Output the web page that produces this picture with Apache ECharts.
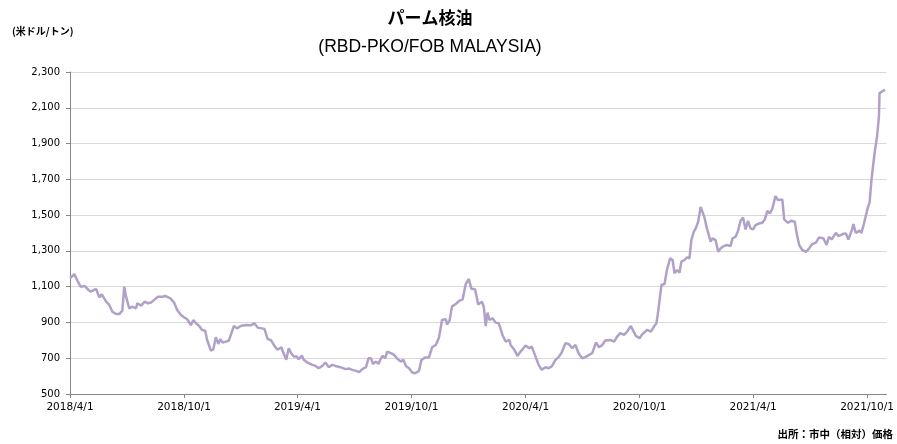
<!DOCTYPE html>
<html>
<head>
<meta charset="utf-8">
<script src="https://cdn.jsdelivr.net/npm/echarts@6/dist/echarts.min.js"></script>
<style>
  html, body { margin: 0; padding: 0; background: #fff; }
  #chart { width: 897px; height: 444px; }
</style>
</head>
<body>
<div id="chart"></div>
<script>
var dates = [
  '2018-04-01','2018-04-08','2018-04-13','2018-04-18','2018-04-25','2018-04-29','2018-05-04','2018-05-13','2018-05-18','2018-05-22',
  '2018-05-29','2018-06-03','2018-06-08','2018-06-14','2018-06-19','2018-06-24','2018-06-27','2018-06-30','2018-07-05','2018-07-10',
  '2018-07-16','2018-07-18','2018-07-24','2018-07-30','2018-08-04','2018-08-09','2018-08-15','2018-08-20','2018-08-27','2018-09-01',
  '2018-09-09','2018-09-15','2018-09-20','2018-09-26','2018-10-01','2018-10-06','2018-10-12','2018-10-16','2018-10-20','2018-10-25',
  '2018-10-30','2018-11-04','2018-11-07','2018-11-13','2018-11-17','2018-11-21','2018-11-25','2018-11-28','2018-12-02','2018-12-07',
  '2018-12-12','2018-12-15','2018-12-20','2018-12-25','2018-12-31','2019-01-08','2019-01-16','2019-01-22','2019-01-27','2019-02-07',
  '2019-02-12','2019-02-18','2019-02-23','2019-02-28','2019-03-06','2019-03-08','2019-03-14','2019-03-15','2019-03-18','2019-03-22',
  '2019-03-26','2019-03-31','2019-04-03','2019-04-08','2019-04-11','2019-04-17','2019-04-19','2019-04-25','2019-04-30','2019-05-05',
  '2019-05-11','2019-05-16','2019-05-21','2019-05-27','2019-06-01','2019-06-09','2019-06-17','2019-06-23','2019-06-28','2019-07-04',
  '2019-07-09','2019-07-14','2019-07-20','2019-07-24','2019-07-28','2019-07-31','2019-08-05','2019-08-09','2019-08-13','2019-08-16',
  '2019-08-20','2019-08-23','2019-08-29','2019-09-03','2019-09-09','2019-09-14','2019-09-18','2019-09-22','2019-09-27','2019-10-02',
  '2019-10-07','2019-10-13','2019-10-17','2019-10-23','2019-10-29','2019-11-03','2019-11-09','2019-11-14','2019-11-19','2019-11-25',
  '2019-11-27','2019-12-01','2019-12-05','2019-12-11','2019-12-17','2019-12-22','2019-12-27','2020-01-01','2020-01-05','2020-01-11',
  '2020-01-16','2020-01-22','2020-01-25','2020-01-28','2020-01-31','2020-02-03','2020-02-08','2020-02-13','2020-02-18','2020-02-24',
  '2020-02-29','2020-03-06','2020-03-08','2020-03-14','2020-03-19','2020-03-24','2020-04-01','2020-04-07','2020-04-11','2020-04-17',
  '2020-04-22','2020-04-27','2020-05-03','2020-05-08','2020-05-13','2020-05-19','2020-05-24','2020-05-29','2020-06-04','2020-06-09',
  '2020-06-15','2020-06-20','2020-06-25','2020-07-01','2020-07-06','2020-07-12','2020-07-17','2020-07-23','2020-07-28','2020-08-02',
  '2020-08-07','2020-08-15','2020-08-21','2020-08-26','2020-08-31','2020-09-06','2020-09-11','2020-09-17','2020-09-20','2020-09-25',
  '2020-10-01','2020-10-05','2020-10-13','2020-10-19','2020-10-24','2020-10-28','2020-10-31','2020-11-03','2020-11-05','2020-11-10',
  '2020-11-14','2020-11-19','2020-11-23','2020-11-26','2020-11-30','2020-12-04','2020-12-07','2020-12-12','2020-12-16','2020-12-20',
  '2020-12-23','2020-12-27','2020-12-30','2021-01-03','2021-01-07','2021-01-10','2021-01-13','2021-01-17','2021-01-20','2021-01-23',
  '2021-01-26','2021-01-31','2021-02-04','2021-02-08','2021-02-13','2021-02-18','2021-02-24','2021-02-27','2021-03-04','2021-03-08',
  '2021-03-12','2021-03-16','2021-03-20','2021-03-24','2021-03-28','2021-04-01','2021-04-05','2021-04-10','2021-04-16','2021-04-20',
  '2021-04-24','2021-04-28','2021-05-02','2021-05-07','2021-05-11','2021-05-18','2021-05-21','2021-05-27','2021-06-01','2021-06-07',
  '2021-06-10','2021-06-14','2021-06-19','2021-06-25','2021-06-30','2021-07-05','2021-07-11','2021-07-16','2021-07-23','2021-07-28',
  '2021-08-01','2021-08-05','2021-08-12','2021-08-16','2021-08-23','2021-08-28','2021-09-01','2021-09-07','2021-09-09','2021-09-13',
  '2021-09-19','2021-09-22','2021-09-26','2021-09-29','2021-10-02','2021-10-05','2021-10-08','2021-10-13','2021-10-17','2021-10-20',
  '2021-10-21','2021-10-24','2021-10-28','2021-10-30'
]

var prices = [
  1147,1170,1133,1100,1104,1087,1072,1087,1040,1057,
  1016,998,960,947,947,966,1100,1044,979,988,
  979,1007,994,1016,1007,1011,1029,1044,1044,1048,
  1035,1011,970,942,929,918,885,914,895,882,
  858,854,802,743,750,817,780,806,788,793,
  799,830,880,867,880,886,884,895,871,864,
  808,799,769,747,761,743,691,700,756,728,
  709,709,694,715,691,676,687,663,657,644,
  657,676,650,663,657,650,639,642,635,629,
  622,639,650,700,700,668,681,668,700,713,
  700,737,728,719,694,681,691,657,644,620,
  616,629,691,704,705,761,774,815,914,918,
  888,910,990,1003,1022,1029,1115,1143,1088,1085,
  1000,1016,988,880,955,914,923,899,895,830,
  793,802,774,747,713,737,771,756,765,709,
  663,635,650,644,654,691,706,732,784,780,
  756,774,728,700,706,719,728,788,761,774,
  799,802,793,821,840,830,849,880,858,825,
  812,833,858,849,877,895,966,970,1109,1115,
  1197,1258,1249,1175,1193,1178,1240,1249,1264,1258,
  1360,1407,1426,1463,1546,1543,1487,1426,1416,1351,
  1370,1360,1295,1314,1327,1333,1327,1370,1379,1413,
  1468,1487,1420,1468,1426,1420,1444,1453,1457,1476,
  1524,1509,1537,1606,1584,1587,1476,1457,1468,1463,
  1398,1333,1305,1295,1314,1338,1346,1375,1370,1333,
  1379,1364,1401,1383,1394,1398,1364,1420,1450,1401,
  1413,1401,1453,1457,1540,1570,1696,1846,1939,2051,
  2182,2182,2197,2200
]

var tickDates = ['2018-04-01', '2018-10-01', '2019-04-01', '2019-10-01', '2020-04-01', '2020-10-01', '2021-04-01', '2021-10-01']
var yTicks = [500, 700, 900, 1100, 1300, 1500, 1700, 1900, 2100, 2300]

function toTime(s) {
  var p = s.split('-').map(Number)
  return Date.UTC(p[0], p[1] - 1, p[2])
}

var tickTimes = tickDates.map(toTime)

var myChart = echarts.init(document.getElementById('chart'))

myChart.setOption({
  animation: false,
  title: [
    {
      text: 'パーム核油',
      left: 430,
      top: 9,
      padding: 0,
      textAlign: 'center',
      textStyle: { fontFamily: 'Noto Sans CJK JP', fontSize: 17, fontWeight: 'bold', color: '#000' }
    },
    {
      text: '(RBD-PKO/FOB MALAYSIA)',
      left: 430,
      top: 38,
      padding: 0,
      textAlign: 'center',
      textStyle: { fontFamily: 'Liberation Sans', fontSize: 17.5, fontWeight: 'normal', color: '#000' }
    },
    {
      text: '(米ドル/トン)',
      left: 12,
      top: 26,
      padding: 0,
      textStyle: { fontFamily: 'Noto Sans CJK JP', fontSize: 10, fontWeight: 'bold', color: '#000' }
    },
    {
      text: '出所：市中（相対）価格',
      right: 4,
      top: 429,
      padding: 0,
      textStyle: { fontFamily: 'Noto Sans CJK JP', fontSize: 10.5, fontWeight: 'bold', color: '#000' }
    }
  ],
  grid: {
    left: 70,
    right: 9,
    top: 72,
    bottom: 50
  },
  xAxis: {
    type: 'value',
    min: toTime('2018-04-01'),
    max: toTime('2021-11-01'),
    axisLine: { lineStyle: { color: '#868686', width: 1 } },
    axisTick: { show: true, length: 4, customValues: tickTimes, lineStyle: { color: '#868686' } },
    axisLabel: {
      customValues: tickTimes,
      margin: 8,
      color: '#000',
      fontFamily: 'DejaVu Sans',
      fontSize: 10.5,
      formatter: function (v) {
        var d = new Date(v)
        return d.getUTCFullYear() + '/' + (d.getUTCMonth() + 1) + '/' + d.getUTCDate()
      }
    },
    splitLine: { show: false }
  },
  yAxis: {
    type: 'value',
    min: yTicks[0],
    max: yTicks[yTicks.length - 1],
    interval: 200,
    axisLine: { show: true, lineStyle: { color: '#868686', width: 1 } },
    axisTick: { show: true, length: 4, lineStyle: { color: '#868686' } },
    axisLabel: {
      margin: 10,
      color: '#000',
      fontFamily: 'DejaVu Sans',
      fontSize: 10,
      formatter: function (v) { return v.toLocaleString('en-US') }
    },
    splitLine: { lineStyle: { color: '#d9d9d9', width: 1 } }
  },
  series: [
    {
      name: 'パーム核油',
      type: 'line',
      showSymbol: false,
      data: dates.map(function (d, i) { return [toTime(d), prices[i]] }),
      lineStyle: { color: '#B1A0C7', width: 2.5 },
      itemStyle: { color: '#B1A0C7' }
    }
  ]
})
</script>
</body>
</html>
